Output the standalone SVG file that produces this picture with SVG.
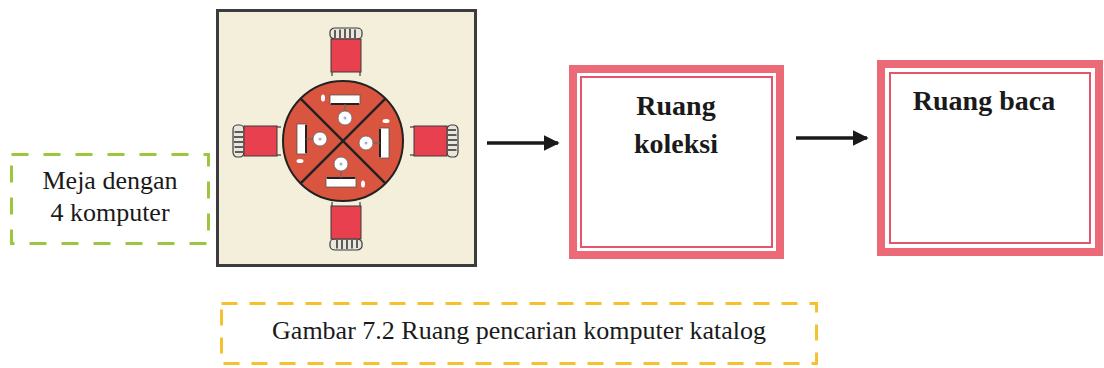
<svg xmlns="http://www.w3.org/2000/svg" width="1104" height="368" viewBox="0 0 1104 368">
  <defs>
    <style>
      .serif { font-family: "Liberation Serif", "Times New Roman", serif; fill: #1a1a1a; }
      .label { font-size: 26px; text-anchor: middle; }
      .title { font-size: 28px; font-weight: bold; text-anchor: middle; }
      .room-outer { fill: #ffffff; stroke: #ec6a78; stroke-width: 8; }
      .room-inner { fill: none; stroke: #e5556a; stroke-width: 2; }
      .seat { fill: #e8404f; stroke: #3a3a3a; stroke-width: 1; }
      .back { fill: #e9e6dc; stroke: #3a3a3a; stroke-width: 1.2; }
      .slat { stroke: #3a3a3a; stroke-width: 1.6; }
      .leg { stroke: #3a3a3a; stroke-width: 1.2; }
      .monitor { fill: #ffffff; stroke: #555; stroke-width: 0.8; }
      .screen { stroke: #222; stroke-width: 2; }
      .stool { fill: #ffffff; stroke: #666; stroke-width: 0.8; }
      .mouse { fill: #ffffff; }
      .conn { stroke: #1a1a1a; stroke-width: 3.5; fill: none; marker-end: url(#arrow); }
    </style>
    <marker id="arrow" viewBox="0 0 10 10" refX="9" refY="5" markerWidth="4.6" markerHeight="4.6" orient="auto" markerUnits="strokeWidth">
      <path d="M0,0 L10,5 L0,10 Z" fill="#1a1a1a"/>
    </marker>
    <!-- chair facing down (backrest on top), origin at top-left of the backrest -->
    <g id="chair">
      <rect class="back" x="0" y="0" width="32" height="11" rx="5" ry="4"/>
      <line class="slat" x1="5" y1="2" x2="5" y2="10"/>
      <line class="slat" x1="10" y1="1.5" x2="10" y2="10"/>
      <line class="slat" x1="15" y1="1" x2="15" y2="10"/>
      <line class="slat" x1="20" y1="1" x2="20" y2="10"/>
      <line class="slat" x1="25" y1="1.5" x2="25" y2="10"/>
      <rect class="seat" x="1" y="11" width="30" height="33"/>
      <line class="leg" x1="2" y1="44" x2="2" y2="48"/>
      <line class="leg" x1="30" y1="44" x2="30" y2="48"/>
    </g>
    <!-- workstation in the upper quadrant of the table, origin at table centre -->
    <g id="station">
      <ellipse class="mouse" cx="-20" cy="-43" rx="2" ry="3.5"/>
      <rect class="monitor" x="-13" y="-46" width="30" height="9"/>
      <line class="screen" x1="-12" y1="-37" x2="16" y2="-37"/>
      <line x1="2" y1="-37" x2="2" y2="-29" stroke="#666" stroke-width="1"/>
      <circle class="stool" cx="2" cy="-23" r="7"/>
      <circle cx="2" cy="-23" r="1.5" fill="#9fb3cc"/>
    </g>
  </defs>

  <!-- connectors -->
  <g id="connectors">
    <line class="conn" x1="487" y1="143" x2="558" y2="143"/>
    <line class="conn" x1="796" y1="138" x2="867" y2="138"/>
  </g>

  <!-- dashed label box -->
  <g id="node-meja-label">
    <rect x="11.5" y="154.5" width="197" height="89" fill="#ffffff" stroke="#9cc63d" stroke-width="3" stroke-dasharray="17 15"/>
    <text class="serif label" x="110" y="189">Meja dengan</text>
    <text class="serif label" x="110" y="221">4 komputer</text>
  </g>

  <!-- table plan with four computers -->
  <g id="node-meja">
    <rect x="217.5" y="10.5" width="258" height="255" fill="#f4efdb" stroke="#3c3c40" stroke-width="3"/>
    <use href="#chair" x="330" y="28"/>
    <use href="#chair" transform="translate(362 250) rotate(180)"/>
    <use href="#chair" transform="translate(233 157) rotate(-90)"/>
    <use href="#chair" transform="translate(458 125) rotate(90)"/>
    <circle cx="343" cy="141" r="60" fill="#d9553f" stroke="#222" stroke-width="2"/>
    <line x1="300.6" y1="98.6" x2="385.4" y2="183.4" stroke="#222" stroke-width="2.5"/>
    <line x1="385.4" y1="98.6" x2="300.6" y2="183.4" stroke="#222" stroke-width="2.5"/>
    <g transform="translate(343 141)">
      <use href="#station"/>
      <use href="#station" transform="rotate(180)"/>
      <use href="#station" transform="rotate(-90)"/>
      <use href="#station" transform="rotate(90)"/>
    </g>
  </g>

  <!-- collection room -->
  <g id="node-ruang-koleksi">
    <rect class="room-outer" x="573" y="69" width="207" height="186"/>
    <rect class="room-inner" x="581" y="77" width="191" height="170"/>
    <text class="serif title" x="676" y="115">Ruang</text>
    <text class="serif title" x="676" y="153">koleksi</text>
  </g>

  <!-- reading room -->
  <g id="node-ruang-baca">
    <rect class="room-outer" x="881" y="64" width="218" height="188"/>
    <rect class="room-inner" x="890" y="73" width="200" height="170"/>
    <text class="serif title" x="984" y="110">Ruang baca</text>
  </g>

  <!-- caption box -->
  <g id="node-caption">
    <rect x="221.5" y="303.5" width="595" height="60" fill="#ffffff" stroke="#f5c12e" stroke-width="3" stroke-dasharray="16 12"/>
    <text class="serif label" x="519" y="339">Gambar 7.2 Ruang pencarian komputer katalog</text>
  </g>
</svg>
